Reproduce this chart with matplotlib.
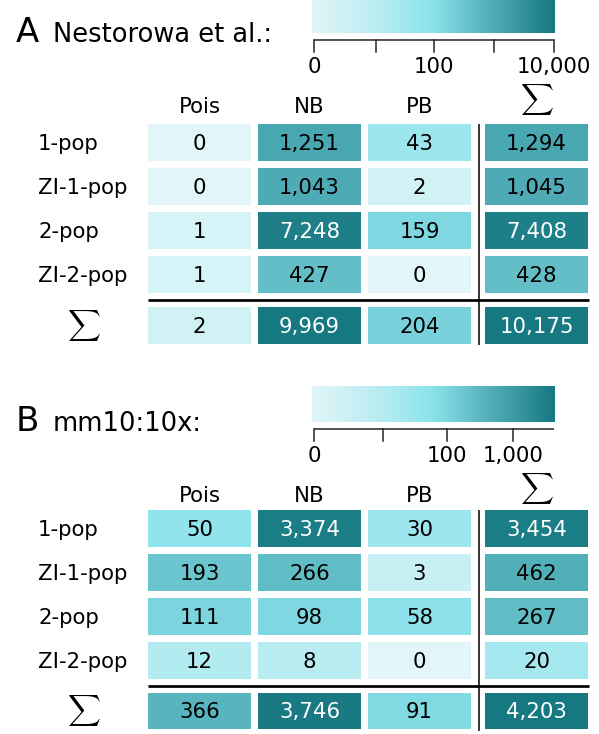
import matplotlib
matplotlib.use('Agg')
import matplotlib.pyplot as plt
import matplotlib.patches as mpatches
from matplotlib.colors import LinearSegmentedColormap
import numpy as np

plt.rcParams['font.family'] = 'DejaVu Sans'
plt.rcParams['mathtext.fontset'] = 'cm'

# Model counts per population type (rows) and distribution (columns)
row_labels = ["1-pop", "ZI-1-pop", "2-pop", "ZI-2-pop"]
col_labels = ["Pois", "NB", "PB"]

nestorowa_counts = np.array([
    [0, 1251, 43],
    [0, 1043, 2],
    [1, 7248, 159],
    [1, 427, 0],
])
mm10_counts = np.array([
    [50, 3374, 30],
    [193, 266, 3],
    [111, 98, 58],
    [12, 8, 0],
])

nestorowa_ticks = [0, 10, 100, 1000, 10000]
nestorowa_ticklabels = ["0", "", "100", "", "10,000"]
mm10_ticks = [0, 10, 100, 1000]
mm10_ticklabels = ["0", "", "100", "1,000"]

teal = LinearSegmentedColormap.from_list('teal', [
    (0.0, '#e2f6f9'), (0.3, '#b3ebf0'), (0.48, '#8fe3ec'), (0.56, '#7dd6df'),
    (0.65, '#65c0c9'), (0.77, '#4aa8b2'), (1.0, '#167881'),
])

W, H = 599, 734
fig = plt.figure(figsize=(W / 100, H / 100), dpi=100)
ax = fig.add_axes([0, 0, 1, 1])

# layout in pixels
col_left = [148.3, 258.3, 368.3, 485.3]
cell_w = 102.5
cell_h = 36.6
row_off = [0, 44, 88, 132, 182.6]
bar_x0, bar_x1 = 312, 555
axis_x0, axis_len = 314, 240
FS = 15.3
SIGMA_FS = 16.5


def draw_panel(letter, title, counts, ticks, ticklabels, top, table_top):
    table = np.zeros((5, 4), dtype=int)
    table[:4, :3] = counts
    table[:4, 3] = counts.sum(axis=1)
    table[4, :3] = counts.sum(axis=0)
    table[4, 3] = counts.sum()
    vmax = table[4, 3]

    def scale(v):
        return np.log10(np.asarray(v, dtype=float) + 1) / np.log10(vmax + 1)

    ax.text(16, top + 42, letter, fontsize=24.5, ha='left', va='baseline')
    ax.text(53, top + 42, title, fontsize=18.5, ha='left', va='baseline')

    # colour bar
    grad = np.linspace(0, 1, 256)[None, :]
    ax.imshow(grad, cmap=teal, extent=(bar_x0, bar_x1, top + 33.3, top - 2.7),
              aspect='auto', interpolation='bilinear')
    ax.plot([axis_x0, axis_x0 + axis_len], [top + 40, top + 40], color='#222222', lw=1.1,
            solid_capstyle='butt')
    for t, lab in zip(ticks, ticklabels):
        x = axis_x0 + axis_len * scale(t)
        ax.plot([x, x], [top + 40, top + 51.7], color='#222222', lw=1.1)
        if lab:
            ax.text(x, top + 72.7, lab, fontsize=FS, ha='center', va='baseline')

    # column headers
    for j, c in enumerate(col_labels):
        ax.text(col_left[j] + cell_w / 2, top + 113, c, fontsize=FS, ha='center', va='baseline')
    ax.text(col_left[3] + cell_w / 2, top + 99, r'$\sum$', fontsize=SIGMA_FS,
            ha='center', va='center')

    # cells
    for i in range(5):
        y = table_top + row_off[i]
        yc = y + cell_h / 2
        if i < 4:
            ax.text(38, yc + 7.3, row_labels[i], fontsize=FS, ha='left', va='baseline')
        else:
            ax.text(84, yc, r'$\sum$', fontsize=SIGMA_FS, ha='center', va='center')
        for j in range(4):
            v = table[i, j]
            s = float(scale(v))
            ax.add_patch(mpatches.Rectangle((col_left[j], y), cell_w, cell_h,
                                            facecolor=teal(s), edgecolor='none'))
            ax.text(col_left[j] + cell_w / 2, yc + 7.6, f'{v:,}', fontsize=FS,
                    ha='center', va='baseline', color='white' if s > 0.85 else 'black')

    ax.plot([148, 589], [table_top + 175.7] * 2, color='black', lw=1.95, solid_capstyle='butt')
    ax.plot([478.7, 478.7], [table_top, table_top + 220.5], color='black', lw=1.1,
            solid_capstyle='butt')


draw_panel('A', 'Nestorowa et al.:', nestorowa_counts, nestorowa_ticks, nestorowa_ticklabels,
           0, 124.3)
draw_panel('B', 'mm10:10x:', mm10_counts, mm10_ticks, mm10_ticklabels, 389, 510)

ax.set_xlim(0, W)
ax.set_ylim(H, 0)
ax.axis('off')

plt.savefig('out.png', dpi=100)
